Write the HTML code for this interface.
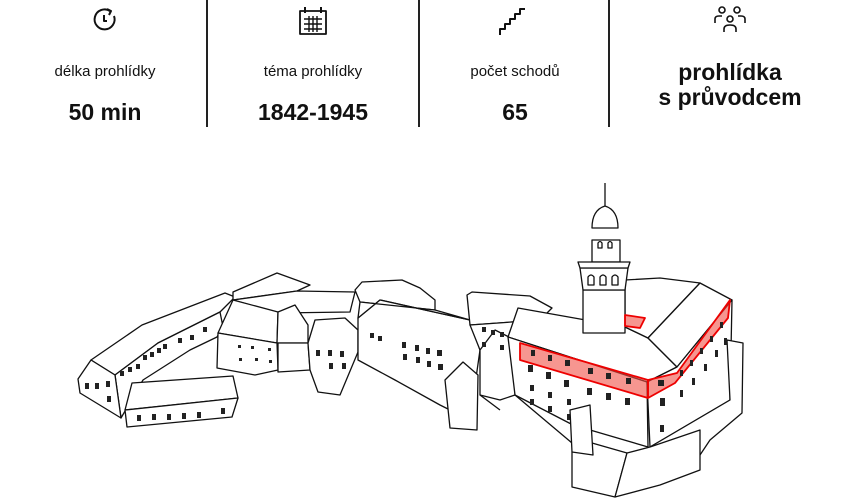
<!DOCTYPE html>
<html><head><meta charset="utf-8"><style>
body{margin:0;width:850px;height:500px;background:#fff;overflow:hidden;position:relative;font-family:"Liberation Sans",sans-serif;color:#111}
.sep{position:absolute;top:0;width:2px;height:127px;background:#222}
.col{position:absolute;top:0;text-align:center}
.lab{position:absolute;top:63px;font-size:15px;width:100%}
.val{position:absolute;top:99px;font-size:23px;font-weight:bold;width:100%}
</style></head><body>
<div class="sep" style="left:206px"></div>
<div class="sep" style="left:418px"></div>
<div class="sep" style="left:608px"></div>

<div class="col" style="left:5px;width:200px"><div class="lab">délka prohlídky</div><div class="val">50 min</div></div>
<div class="col" style="left:213px;width:200px"><div class="lab">téma prohlídky</div><div class="val">1842-1945</div></div>
<div class="col" style="left:415px;width:200px"><div class="lab">počet schodů</div><div class="val">65</div></div>
<div class="col" style="left:630px;width:200px"><div style="position:absolute;top:60px;width:100%;font-size:23px;font-weight:bold;line-height:25px">prohlídka<br>s průvodcem</div></div>

<svg width="850" height="500" style="position:absolute;left:0;top:0" fill="none" stroke="#111" stroke-width="1.3" stroke-linejoin="round">
<g stroke-width="2">
<path d="M110 11 A10 10 0 1 0 114 16"/><path d="M107 9 l4 2 l-2 4"/><path d="M104 15 v6 h3"/>
<rect x="300" y="11" width="26" height="23" stroke-width="1.8"/>
<line x1="305" y1="7" x2="305" y2="13"/><line x1="321" y1="7" x2="321" y2="13"/>
<path d="M304 19h18M304 24h18M304 29h18M309 16v16M313 16v16M317 16v16" stroke-width="1.4"/>
<path d="M500 35 v-6 h5 v-5 h5 v-5 h5 v-5 h5 v-5 h5"/>
<g stroke-width="1.6"><circle cx="722" cy="10" r="3"/><circle cx="737" cy="10" r="3"/><circle cx="730" cy="19" r="3"/><path d="M715 23 v-4 q0-3 4-3 h3M745 23 v-4 q0-3-4-3 h-3M724 32 v-3 q0-4 6-4 q6 0 6 4 v3"/></g>
</g>

<g fill="#fff">
<polygon points="91,360 142,325 225,293 235,297 220,312 158,343 115,375"/>
<polygon points="115,375 158,343 220,312 223,327 217,337 190,350 143,380 121,418"/>
<polygon points="80,393 78,379 91,360 115,375 121,418"/>
<polygon points="233,292 277,273 310,285 297,291 233,300"/>
<polygon points="233,300 297,291 355,292 350,312 278,313"/>
<polygon points="218,333 233,300 278,312 277,343"/>
<polygon points="218,333 277,343 278,370 255,375 217,368"/>
<polygon points="277,343 278,312 295,305 308,325 308,343"/>
<polygon points="278,343 308,343 310,370 278,372"/>
<polygon points="308,343 315,320 345,318 358,330 358,352 340,395 318,392 310,370"/>
<polygon points="355,290 362,282 402,280 420,288 435,300 435,310 360,302"/>
<polygon points="358,318 380,300 470,320 480,350 470,420 440,405 395,380 358,360"/>
<polygon points="358,318 360,302 435,310 470,320 380,300"/>
<polygon points="132,383 233,376 238,398 125,410"/>
<polygon points="125,410 238,398 232,417 127,427"/>
<polygon points="467,295 472,292 530,296 552,308 540,320 470,325"/>
<polygon points="470,325 540,320 515,340 495,360 480,350"/>
<polygon points="480,350 495,330 515,340 515,395 500,400 480,395"/>
<polygon points="508,337 518,308 625,327 648,338 677,367 647,382"/>
<polygon points="625,327 625,280 660,278 700,283 648,338"/>
<polygon points="648,338 700,283 732,300 677,367"/>
<polygon points="508,337 647,382 648,447 573,425 515,395"/>
<polygon points="647,382 677,367 732,300 730,400 650,447"/>
<polygon points="727,340 743,343 742,413 710,440 690,470 650,480 630,455 650,447 730,400"/>
<polygon points="572,452 592,443 627,453 615,497 572,487"/>
<polygon points="627,453 650,447 700,430 700,470 660,485 615,497"/>
<polygon points="583,290 625,290 625,333 583,333"/>
<polygon points="580,268 628,268 625,290 583,290"/>
<polygon points="592,240 620,240 620,262 592,262"/>
<polygon points="578,262 630,262 628,268 580,268"/>
<path d="M592 228 q0-18 13-22 q13 4 13 22 z"/>
<line x1="605" y1="183" x2="605" y2="206"/>
<polygon points="445,380 463,362 478,375 477,430 450,428"/>
</g>
<path d="M515 395 L572 443 M480 395 L500 410"/>
<g fill="rgba(240,80,70,0.6)" stroke="#e00" stroke-width="1.8">
<polygon points="520,343 648,380 648,398 520,360"/>
<polygon points="648,380 677,373 730,300 728,318 675,383 648,398"/>
<polygon points="625,315 645,318 640,328 625,326"/>
</g>
<g fill="#222" stroke="none">
<rect x="85" y="383" width="4" height="6"/><rect x="95" y="383" width="4" height="6"/><rect x="106" y="381" width="4" height="6"/><rect x="107" y="396" width="4" height="6"/>
<rect x="120" y="371" width="4" height="5"/><rect x="128" y="367" width="4" height="5"/><rect x="136" y="364" width="4" height="5"/>
<rect x="143" y="355" width="4" height="5"/><rect x="150" y="352" width="4" height="5"/><rect x="157" y="348" width="4" height="5"/>
<rect x="163" y="344" width="4" height="5"/><rect x="178" y="338" width="4" height="5"/><rect x="190" y="335" width="4" height="5"/><rect x="203" y="327" width="4" height="5"/>
<rect x="137" y="415" width="4" height="6"/><rect x="152" y="414" width="4" height="6"/><rect x="167" y="414" width="4" height="6"/><rect x="182" y="413" width="4" height="6"/><rect x="197" y="412" width="4" height="6"/><rect x="221" y="408" width="4" height="6"/>
<rect x="238" y="345" width="3" height="3"/><rect x="251" y="346" width="3" height="3"/><rect x="268" y="348" width="3" height="3"/><rect x="239" y="358" width="3" height="3"/><rect x="255" y="358" width="3" height="3"/><rect x="269" y="360" width="3" height="3"/>
<rect x="316" y="350" width="4" height="6"/><rect x="328" y="350" width="4" height="6"/><rect x="340" y="351" width="4" height="6"/><rect x="329" y="363" width="4" height="6"/><rect x="342" y="363" width="4" height="6"/>
<rect x="370" y="333" width="4" height="5"/><rect x="378" y="336" width="4" height="5"/><rect x="402" y="342" width="4" height="6"/><rect x="415" y="345" width="4" height="6"/><rect x="426" y="348" width="4" height="6"/><rect x="437" y="350" width="5" height="6"/><rect x="403" y="354" width="4" height="6"/><rect x="416" y="357" width="4" height="6"/><rect x="427" y="361" width="4" height="6"/><rect x="438" y="364" width="5" height="6"/>
<rect x="482" y="327" width="4" height="5"/><rect x="491" y="330" width="4" height="5"/><rect x="500" y="332" width="4" height="5"/><rect x="482" y="342" width="4" height="5"/><rect x="500" y="345" width="4" height="5"/>
<rect x="531" y="350" width="4" height="6"/><rect x="548" y="355" width="4" height="6"/><rect x="565" y="360" width="5" height="6"/><rect x="588" y="368" width="5" height="6"/><rect x="606" y="373" width="5" height="6"/><rect x="626" y="378" width="5" height="6"/><rect x="658" y="380" width="6" height="6"/>
<rect x="528" y="365" width="5" height="7"/><rect x="546" y="372" width="5" height="7"/><rect x="564" y="380" width="5" height="7"/><rect x="587" y="388" width="5" height="7"/><rect x="606" y="393" width="5" height="7"/><rect x="625" y="398" width="5" height="7"/><rect x="660" y="398" width="5" height="8"/>
<rect x="530" y="385" width="4" height="6"/><rect x="548" y="392" width="4" height="6"/><rect x="567" y="399" width="4" height="6"/><rect x="530" y="399" width="4" height="6"/><rect x="548" y="406" width="4" height="6"/><rect x="567" y="414" width="4" height="6"/><rect x="660" y="425" width="4" height="7"/>
<rect x="680" y="370" width="3" height="6"/><rect x="690" y="360" width="3" height="6"/><rect x="700" y="348" width="3" height="6"/><rect x="710" y="336" width="3" height="6"/><rect x="720" y="322" width="3" height="6"/>
<rect x="680" y="390" width="3" height="7"/><rect x="692" y="378" width="3" height="7"/><rect x="704" y="364" width="3" height="7"/><rect x="715" y="350" width="3" height="7"/><rect x="724" y="338" width="3" height="7"/>
</g>
<g fill="#fff"><path d="M598 248 v-5 q2-3 4 0 v5z M608 248 v-5 q2-3 4 0 v5z M588 285 v-8 q3-4 6 0 v8z M600 285 v-8 q3-4 6 0 v8z M612 285 v-8 q3-4 6 0 v8z"/>
<polygon points="570,410 590,405 593,455 572,452"/></g>
</svg>
</body></html>
